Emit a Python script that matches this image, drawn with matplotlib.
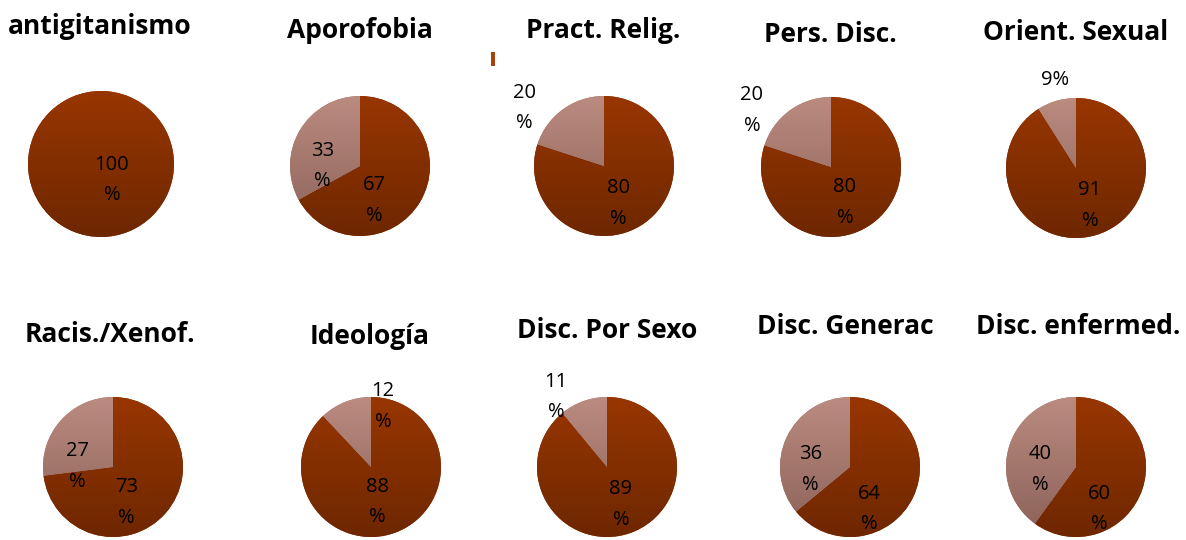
import numpy as np
import matplotlib
matplotlib.use("Agg")
import matplotlib.pyplot as plt
from matplotlib.colors import LinearSegmentedColormap
from matplotlib.patches import Rectangle

# ---- data ----
titles = ["antigitanismo", "Aporofobia", "Pract. Relig.", "Pers. Disc.", "Orient. Sexual",
          "Racis./Xenof.", "Ideología", "Disc. Por Sexo", "Disc. Generac", "Disc. enfermed."]
main_pct = [100, 67, 80, 80, 91, 73, 88, 89, 64, 60]
other_pct = [0, 33, 20, 20, 9, 27, 12, 11, 36, 40]
main_labels = ["100\n%", "67\n%", "80\n%", "80\n%", "91\n%", "73\n%", "88\n%", "89\n%", "64\n%", "60\n%"]
other_labels = ["", "33\n%", "20\n%", "20\n%", "9%", "27\n%", "12\n%", "11\n%", "36\n%", "40\n%"]

# ---- layout (pixels) ----
W, H = 1186, 540
centers = [(101, 164), (360, 166), (604, 166), (831, 167), (1076, 168),
           (113, 467), (371, 467), (607, 467), (850, 467), (1076, 467)]
radii = [73, 70, 70, 70, 70, 70, 70, 70, 70, 70]
title_pos = [(100, 26), (360, 30), (603, 30), (830, 35), (1076, 32),
             (110, 334), (370, 336), (607, 331), (845, 327), (1078, 327)]
main_off = [(0.15, -0.22), (0.21, -0.49), (0.20, -0.53), (0.20, -0.51), (0.20, -0.54),
            (0.19, -0.51), (0.09, -0.50), (0.20, -0.54), (0.27, -0.60), (0.34, -0.60)]
other_off = [(0, 0), (-0.54, 0.0), (-1.14, 0.83), (-1.13, 0.81), (-0.30, 1.26),
             (-0.51, 0.01), (0.17, 0.87), (-0.73, 1.00), (-0.56, -0.03), (-0.51, -0.04)]

dark_cmap = LinearSegmentedColormap.from_list("dk", ["#6e2700", "#983600"])
light_cmap = LinearSegmentedColormap.from_list("lt", ["#8a6158", "#bb8b80"])
grad = np.linspace(0, 1, 256).reshape(-1, 1)

fig = plt.figure(figsize=(W / 100, H / 100), dpi=100)
fig.patch.set_facecolor("white")

lbl_kw = dict(ha="center", va="center", fontsize=14.5, family="Open Sans",
              linespacing=1.72, color="black", zorder=5)

for i in range(len(titles)):
    cx, cy = centers[i]
    r = radii[i]
    ax = fig.add_axes([(cx - r) / W, 1 - (cy + r) / H, 2 * r / W, 2 * r / H])
    vals = [main_pct[i], other_pct[i]] if other_pct[i] > 0 else [main_pct[i]]
    wedges, _ = ax.pie(vals, startangle=90, counterclock=False, radius=1,
                       colors=["#8a3100", "#a57468"][:len(vals)],
                       wedgeprops=dict(linewidth=0))
    for w, cm in zip(wedges, [dark_cmap, light_cmap]):
        im = ax.imshow(grad, extent=[-1, 1, -1, 1], origin="lower", cmap=cm,
                       aspect="auto", zorder=2)
        im.set_clip_path(w)
    ax.set_xlim(-1, 1)
    ax.set_ylim(-1, 1)
    ax.set_aspect("equal")
    ax.axis("off")
    mx, my = main_off[i]
    ax.text(mx, my, main_labels[i], **lbl_kw)
    if other_pct[i] > 0:
        ox, oy = other_off[i]
        ax.text(ox, oy, other_labels[i], **lbl_kw)
    tx, ty = title_pos[i]
    fig.text(tx / W, 1 - ty / H, titles[i], ha="center", va="center",
             fontsize=19, fontweight="bold", family="Open Sans")

# small artifact mark near third title
fig.patches.append(Rectangle((491 / W, 1 - 66 / H), 4 / W, 14 / H,
                             transform=fig.transFigure, facecolor="#a8420f",
                             edgecolor="none"))

fig.savefig("out.png", dpi=100)
